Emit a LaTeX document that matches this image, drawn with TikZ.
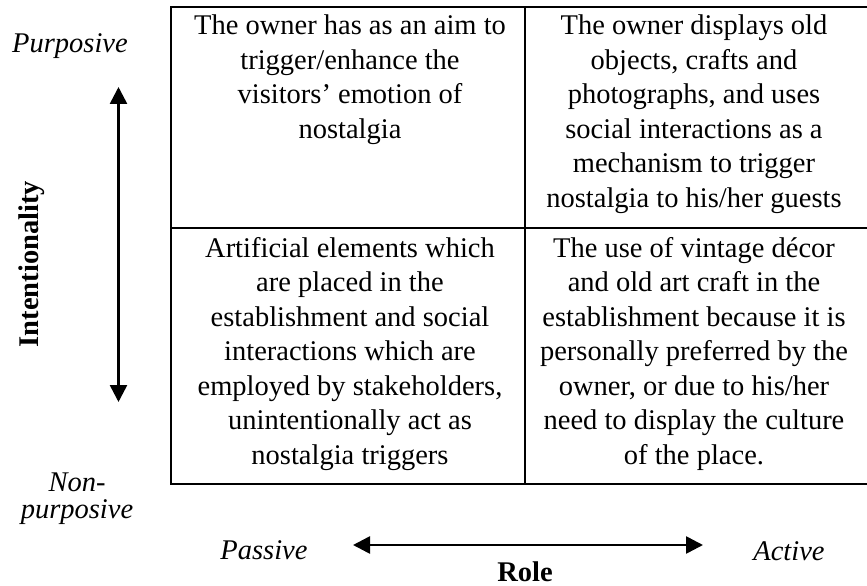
\documentclass[tikz,border=0pt]{standalone}
\usepackage{fontspec}
\setmainfont{Liberation Serif}
\usetikzlibrary{arrows.meta}
\begin{document}
\begin{tikzpicture}[x=1bp,y=-1bp,
  celltext/.style={align=center, font=\fontsize{28.5bp}{34.5bp}\selectfont, inner sep=0pt, anchor=base},
  axislabel/.style={align=center, font=\fontsize{28.5bp}{27bp}\selectfont\itshape, inner sep=0pt, anchor=base},
  axistitle/.style={font=\fontsize{28.5bp}{34.5bp}\selectfont\bfseries, inner sep=0pt, anchor=base},
  gridline/.style={line width=2bp},
  axisarrow/.style={line width=2.6bp, {Triangle[length=17bp,width=17bp]}-{Triangle[length=17bp,width=17bp]}}
]
\useasboundingbox (0,0) rectangle (867,586);

% quadrant grid
\draw[gridline] (171,7) rectangle (872,484);
\draw[gridline] (525,7) -- (525,484);
\draw[gridline] (171,228) -- (872,228);

% quadrant texts (anchored at the baseline of their last line)
\node[celltext] (tl) at (350,138.5) {The owner has as an aim to\\trigger/enhance the\\visitors’ emotion of\\nostalgia};
\node[celltext] (tr) at (694,207.5) {The owner displays old\\objects, crafts and\\photographs, and uses\\social interactions as a\\mechanism to trigger\\nostalgia to his/her guests};
\node[celltext] (bl) at (350,464) {Artificial elements which\\are placed in the\\establishment and social\\interactions which are\\employed by stakeholders,\\unintentionally act as\\nostalgia triggers};
\node[celltext] (br) at (694,464) {The use of vintage décor\\and old art craft in the\\establishment because it is\\personally preferred by the\\owner, or due to his/her\\need to display the culture\\of the place.};

% vertical axis
\node[axislabel] (purp) at (70,53) {Purposive};
\node[axislabel] (nonpurp) at (77,518) {Non-\\purposive};
\node[axistitle, rotate=90] (intent) at (38.5,264) {Intentionality};
\coordinate (vtop) at (118.5,87);
\coordinate (vbot) at (118.5,402);
\draw[axisarrow] (vtop) -- (vbot);

% horizontal axis
\node[axislabel] (passive) at (264,559) {Passive};
\node[axislabel] (active) at (789,560) {Active};
\node[axistitle] (role) at (525,581.5) {Role};
\coordinate (hleft) at (353,545);
\coordinate (hright) at (703,545);
\draw[axisarrow] (hleft) -- (hright);
\end{tikzpicture}
\end{document}
